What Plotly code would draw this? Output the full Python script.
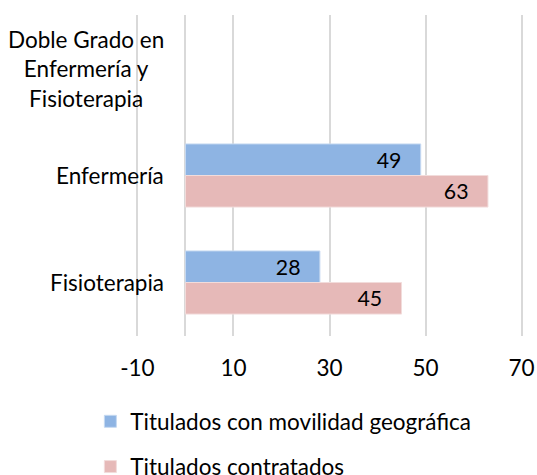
import plotly.graph_objects as go

categories = ["Doble Grado en<br>Enfermería y<br>Fisioterapia", "Enfermería", "Fisioterapia"]
movilidad = [None, 49, 28]
contratados = [None, 63, 45]
series_names = ["Titulados con movilidad geográfica", "Titulados contratados"]
tick_vals = [-10, 10, 30, 50, 70]

FONT = "Lato"
FS = 22.5
PAD = "\u00a0\u00a0\u00a0"

fig = go.Figure()
fig.add_trace(go.Bar(
    y=categories, x=movilidad, orientation="h", name=series_names[0],
    legendgroup="a",
    marker=dict(color="#8EB4E3", line=dict(color="#C6D9F1", width=1)),
    text=[("" if v is None else str(v) + PAD) for v in movilidad],
    textposition="inside", insidetextanchor="end",
    textfont=dict(color="black", size=FS, family=FONT),
))
fig.add_trace(go.Bar(
    y=categories, x=contratados, orientation="h", name=series_names[1],
    legendgroup="b",
    marker=dict(color="#E6B9B8", line=dict(color="#F2DCDB", width=1)),
    text=[("" if v is None else str(v) + PAD) for v in contratados],
    textposition="inside", insidetextanchor="end",
    textfont=dict(color="black", size=FS, family=FONT),
))

for c in categories:
    fig.add_annotation(
        x=0, xref="paper", xanchor="right", xshift=29.9,
        y=c, yref="y", text=c, showarrow=False, align="center",
        font=dict(size=FS, family=FONT, color="black"),
    )

fig.update_layout(
    width=537, height=475,
    margin=dict(l=135.86, r=14.26, t=14.5, b=139.3, autoexpand=False),
    barmode="group", bargap=0.41, bargroupgap=0,
    plot_bgcolor="white", paper_bgcolor="white",
    font=dict(family=FONT, size=FS, color="black"),
    showlegend=True,
    legend=dict(orientation="v", x=-0.1179, xanchor="left", y=-0.200, yanchor="top",
                font=dict(size=FS, family=FONT), traceorder="grouped",
                itemwidth=30, tracegroupgap=13, bgcolor="rgba(0,0,0,0)"),
    uniformtext=dict(mode=False),
)
fig.update_xaxes(
    range=[-10.3, 70.3], tickvals=tick_vals, ticktext=[str(v) for v in tick_vals],
    showgrid=True, gridcolor="#D9D9D9", gridwidth=2,
    zeroline=True, zerolinecolor="#D9D9D9", zerolinewidth=2,
    showline=False, ticks="", ticklabelstandoff=16, ticklabeloverflow="allow",
    tickfont=dict(size=FS, family=FONT),
)
fig.update_yaxes(
    autorange="reversed", showticklabels=False, showgrid=False, ticks="",
    zeroline=False, showline=False,
)
fig.write_html("out.html", config={"displayModeBar": False},
               post_script="document.body.style.margin='0';document.body.style.overflow='hidden';")
